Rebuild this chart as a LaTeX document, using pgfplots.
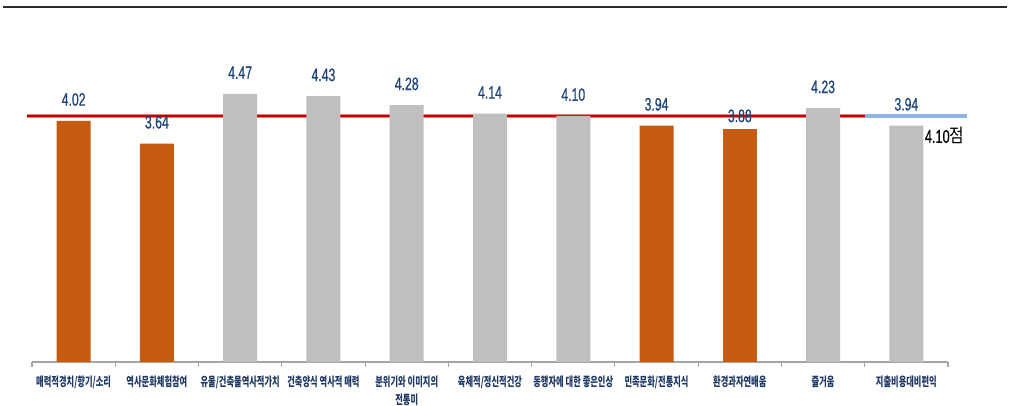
\documentclass[border=0pt]{standalone}
\usepackage{pgfplots}
\pgfplotsset{compat=1.18}
\usepackage{fontspec}
\setmainfont{Liberation Sans}
\newfontfamily\cjk[FakeStretch=0.66]{Noto Sans CJK KR}
\newfontfamily\cjkb[FakeStretch=0.85]{Noto Sans CJK KR}
\newfontfamily\narrow[FakeStretch=0.68, FakeBold=0.7]{Liberation Sans}
\definecolor{barorange}{HTML}{C55A11}
\definecolor{bargray}{HTML}{BFBFBF}
\definecolor{labelnavy}{HTML}{1F3864}
\definecolor{valblue}{HTML}{1F4478}
\definecolor{refred}{HTML}{C00000}
\definecolor{refpink}{HTML}{E88080}
\definecolor{refblue}{HTML}{8DB4E2}
\definecolor{axisgray}{HTML}{A6A6A6}
\definecolor{topline}{HTML}{2B2B2B}
\begin{document}
\begin{tikzpicture}
\useasboundingbox (0,0) rectangle (757.5pt,304.5pt);
\draw[line width=1.6pt, color=topline] (2.25pt,299.2pt) -- (755.25pt,299.2pt);
\begin{axis}[
  at={(24pt,33pt)}, anchor=south west, scale only axis,
  width=687pt, height=265.5pt,
  xmin=-0.5, xmax=10.5, ymin=0, ymax=5.9,
  axis y line=none, axis x line*=bottom,
  x axis line style={color=axisgray, line width=0.9pt},
  xtick={0,...,10},
  xticklabels={매력적경치/향기/소리, 역사문화체험참여, 유물/건축물역사적가치, 건축양식 역사적 매력, 분위기와 이미지의\\전통미, 육체적/정신적건강, 동행자에 대한 좋은인상, 민족문화/전통지식, 환경과자연배움, 즐거움, 지출비용대비편익},
  major x tick style={draw=none},
  minor xtick={-0.5,0.5,...,10.5},
  minor x tick style={color=axisgray, line width=0.8pt},
  minor tick length=3.75pt,
  tick align=outside,
  xticklabel style={font=\cjk\bfseries\fontsize{9.4}{14}\selectfont, text=labelnavy, align=center, anchor=north, yshift=-2.5pt},
  bar width=25.5pt,
  clip=false,
  every node near coord/.style={text=valblue, anchor=south, inner sep=0pt, yshift=11pt},
]
% reference line (average 4.10)
\addplot[sharp plot, no marks, color=refpink, line width=3.2pt, forget plot] coordinates {(-0.56,4.10) (9.5,4.10)};
\addplot[sharp plot, no marks, color=refred, line width=2.0pt, forget plot] coordinates {(-0.56,4.10) (9.5,4.10)};
\addplot[sharp plot, no marks, color=refblue, line width=2.4pt, forget plot] coordinates {(9.5,4.10) (10.73,4.10)};
% gray bars
\addplot[ybar, bar shift=0pt, fill=bargray, draw=none,
  nodes near coords={\narrow\fontsize{13.5}{16}\selectfont\pgfmathprintnumber[fixed,fixed zerofill,precision=2,assume math mode=true]{\pgfplotspointmeta}}]
  coordinates {(2,4.47) (3,4.43) (4,4.28) (5,4.14) (6,4.10) (9,4.23) (10,3.94)};
% orange bars
\addplot[ybar, bar shift=0pt, fill=barorange, draw=none,
  nodes near coords={\narrow\fontsize{13.5}{16}\selectfont\pgfmathprintnumber[fixed,fixed zerofill,precision=2,assume math mode=true]{\pgfplotspointmeta}}]
  coordinates {(0,4.02) (1,3.64) (7,3.94)};
\addplot[ybar, bar shift=0pt, fill=barorange, draw=none,
  nodes near coords={\narrow\fontsize{13.5}{16}\selectfont\pgfmathprintnumber[fixed,fixed zerofill,precision=2,assume math mode=true]{\pgfplotspointmeta}},
  every node near coord/.append style={yshift=-6pt}]
  coordinates {(8,3.88)};
\node[anchor=west, inner sep=0pt, text=black] at (axis cs:10.22,3.77) {{\narrow\fontsize{14}{16}\selectfont 4.10}{\cjkb\fontsize{14}{16}\selectfont 점}};
\end{axis}
\end{tikzpicture}
\end{document}
